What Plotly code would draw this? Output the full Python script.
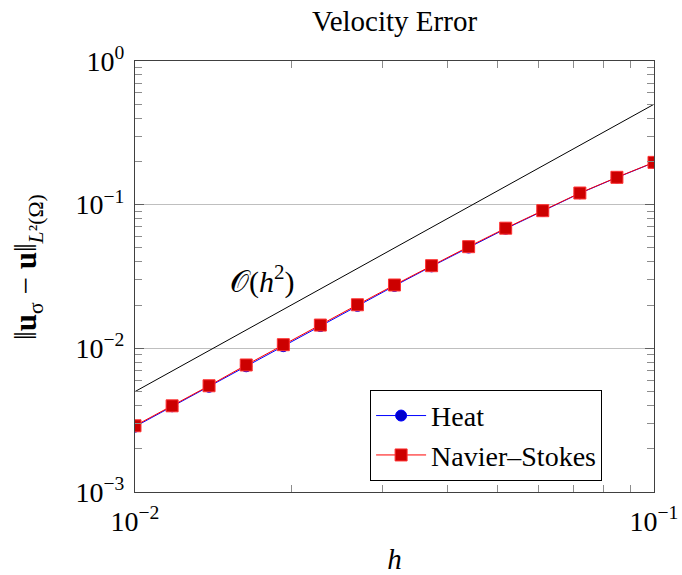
import plotly.graph_objects as go

h = [0.01, 0.01179, 0.01389, 0.01638, 0.01931, 0.02276, 0.02683, 0.03162,
     0.03728, 0.04394, 0.05179, 0.06105, 0.07197, 0.08483, 0.1]
heat = [0.00285, 0.00395, 0.00540, 0.00750, 0.01035, 0.01430, 0.01975, 0.0272,
        0.0372, 0.0503, 0.0680, 0.0903, 0.1200, 0.1545, 0.1965]
navier_stokes = [0.00289, 0.00398, 0.00549, 0.00766, 0.0106, 0.01452, 0.0201, 0.0276,
                 0.0376, 0.0510, 0.0686, 0.0908, 0.1205, 0.1550, 0.1970]
ref_h = [0.01, 0.1]
ref_err = [0.005, 0.5]

x_tickvals = [0.01, 0.1]
x_ticktext = ["10<sup>−2</sup>", "10<sup>−1</sup>"]
x_minor = [0.02, 0.03, 0.04, 0.05, 0.06, 0.07, 0.08, 0.09]
y_tickvals = [0.001, 0.01, 0.1, 1]
y_ticktext = ["10<sup>−3</sup>", "10<sup>−2</sup>", "10<sup>−1</sup>", "10<sup>0</sup>"]
y_minor = [m * d for d in (0.001, 0.01, 0.1) for m in (2, 3, 4, 5, 6, 7, 8, 9)]

FONT = "Liberation Serif"

fig = go.Figure()
fig.add_trace(go.Scatter(x=ref_h, y=ref_err, mode="lines",
                         line=dict(color="black", width=1), showlegend=False))
fig.add_trace(go.Scatter(x=h, y=heat, mode="lines+markers", name="Heat",
                         line=dict(color="#0000ff", width=1),
                         marker=dict(symbol="circle", size=11, color="#0000cc",
                                     line=dict(color="#0000ff", width=1))))
fig.add_trace(go.Scatter(x=h, y=navier_stokes, mode="lines+markers", name="Navier–Stokes",
                         line=dict(color="#ff0000", width=1),
                         marker=dict(symbol="square", size=12, color="#cc0000",
                                     line=dict(color="#ff3333", width=1))))

fig.add_annotation(x=-1.755, y=-1.52, xref="x", yref="y", showarrow=False,
                   text="𝒪(<i>h</i><sup>2</sup>)", font=dict(family=FONT, size=30, color="black"))

# y-axis title placed as a rotated annotation to match the reference position
fig.add_annotation(x=(28 - 135) / 519, y=(492 - 267) / 431, xref="paper", yref="paper",
                   showarrow=False, textangle=-90, xanchor="center", yanchor="middle",
                   text="‖<b>u</b><sub>σ</sub> − <b>u</b>‖<sub><i>L</i>²(Ω)</sub>",
                   font=dict(family=FONT, size=31, color="black"))

axis_common = dict(type="log", showline=True, linecolor="#404040", linewidth=1.3,
                   mirror="allticks", ticks="inside", ticklen=9, tickcolor="#606060",
                   tickfont=dict(family=FONT, size=28, color="black"), zeroline=False,
                   automargin=False)

fig.update_xaxes(**axis_common, range=[-2, -1], tickvals=x_tickvals, ticktext=x_ticktext,
                 showgrid=False, ticklabelstandoff=4,
                 minor=dict(tickmode="array", tickvals=x_minor, ticks="inside", ticklen=7,
                            tickcolor="#8c8c8c", showgrid=False),
                 title=dict(text="<i>h</i>", font=dict(family=FONT, size=29, color="black")))
fig.update_yaxes(**axis_common, range=[-3, 0], tickvals=y_tickvals, ticktext=y_ticktext,
                 showgrid=True, gridcolor="#bfbfbf", gridwidth=1, ticklabelstandoff=4,
                 minor=dict(tickmode="array", tickvals=y_minor, ticks="inside", ticklen=7,
                            tickcolor="#8c8c8c", showgrid=False))

fig.update_layout(
    width=682, height=575,
    margin=dict(l=135, r=28, t=61, b=83),
    plot_bgcolor="white", paper_bgcolor="white",
    title=dict(text="Velocity Error", x=(135 + 654) / 2 / 682, xanchor="center",
               y=1 - 21 / 575, yanchor="middle",
               font=dict(family=FONT, size=29, color="black")),
    legend=dict(x=0.453, y=0.237, xanchor="left", yanchor="top",
                bordercolor="black", borderwidth=1, bgcolor="white",
                font=dict(family=FONT, size=28, color="black"),
                tracegroupgap=0, itemwidth=50),
)

fig.write_html("out.html")
